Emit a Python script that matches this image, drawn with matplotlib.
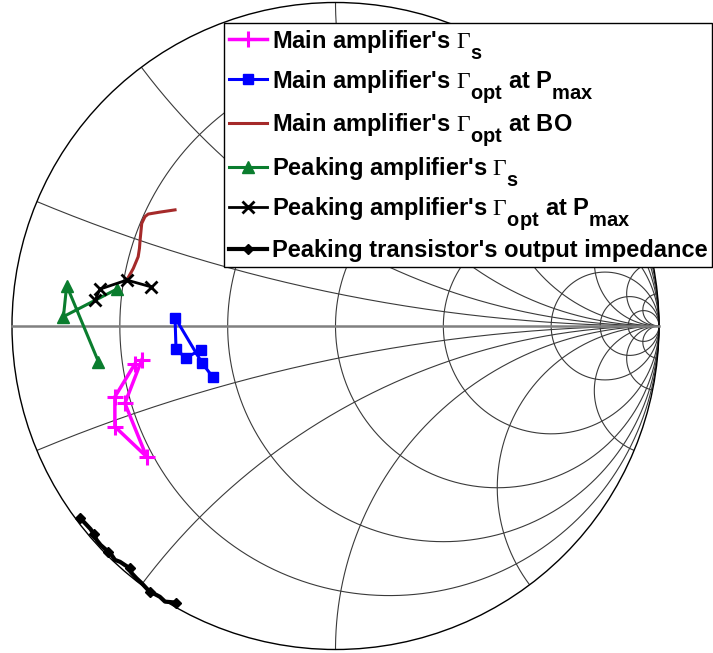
import numpy as np
import matplotlib
matplotlib.use("Agg")
import matplotlib.pyplot as plt
import matplotlib._mathtext as mathtext_impl
from matplotlib.patches import Circle

plt.rcParams["mathtext.fontset"] = "custom"
plt.rcParams["mathtext.rm"] = "Liberation Serif"
plt.rcParams["mathtext.it"] = "Liberation Serif:italic"
plt.rcParams["mathtext.bf"] = "Liberation Sans:bold"
plt.rcParams["mathtext.sf"] = "Liberation Sans:bold"
# larger, lower subscripts in the legend labels
mathtext_impl.SHRINK_FACTOR = 0.85
mathtext_impl.FontConstantsBase.sub1 = 1.0
mathtext_impl.FontConstantsBase.subdrop = 1.0

# Smith chart grid values (normalised resistance / reactance)
r_vals = [0.2, 0.5, 1, 2, 5, 10, 20]
x_vals = [0.2, 0.5, 1, 2, 5, 10, 20]

# Reflection coefficients (real part, imaginary part)
main_gs_re = [-0.620, -0.682, -0.682, -0.584, -0.651, -0.599]
main_gs_im = [-0.117, -0.219, -0.311, -0.404, -0.239, -0.105]

main_pmax_re = [-0.416, -0.463, -0.493, -0.496, -0.412, -0.380]
main_pmax_im = [-0.074, -0.098, -0.072, 0.026, -0.115, -0.157]

main_bo_re = [-0.640, -0.625, -0.610, -0.606, -0.604, -0.599, -0.589, -0.579, -0.543, -0.496]
main_bo_im = [0.151, 0.178, 0.214, 0.240, 0.266, 0.317, 0.338, 0.346, 0.352, 0.359]

peak_gs_re = [-0.733, -0.831, -0.841, -0.676]
peak_gs_im = [-0.110, 0.125, 0.029, 0.114]

peak_pmax_re = [-0.743, -0.728, -0.645, -0.570]
peak_pmax_im = [0.080, 0.114, 0.142, 0.121]

peak_zout_re = [-0.790, -0.771, -0.757, -0.747, -0.738, -0.726, -0.702, -0.692, -0.682, -0.666,
                -0.651, -0.635, -0.630, -0.615, -0.599, -0.573, -0.558, -0.543, -0.527, -0.493]
peak_zout_im = [-0.593, -0.613, -0.628, -0.644, -0.662, -0.677, -0.698, -0.708, -0.723, -0.729,
                -0.739, -0.749, -0.764, -0.780, -0.795, -0.823, -0.829, -0.837, -0.852, -0.855]
peak_zout_marks = [0, 3, 6, 11, 15, 19]

labels = [
    r"Main amplifier's $\mathrm{\Gamma}_{\mathbf{s}}$",
    r"Main amplifier's $\mathrm{\Gamma}_{\mathbf{opt}}$ at $\mathbf{P}_{\mathbf{max}}$",
    r"Main amplifier's $\mathrm{\Gamma}_{\mathbf{opt}}$ at BO",
    r"Peaking amplifier's $\mathrm{\Gamma}_{\mathbf{s}}$",
    r"Peaking amplifier's $\mathrm{\Gamma}_{\mathbf{opt}}$ at $\mathbf{P}_{\mathbf{max}}$",
    "Peaking transistor's output impedance",
]

W, H = 713, 653
fig = plt.figure(figsize=(W / 100, H / 100), dpi=100)
ax = fig.add_axes([0, 0, 1, 1])
cx, cy, R = 335.5, 326.0, 323.5
ax.set_xlim(-cx / R, (W - cx) / R)
ax.set_ylim((cy - H) / R, cy / R)
ax.axis("off")

grid_c = "#3a3a3a"
grid_lw = 0.8
clip = Circle((0, 0), 1, transform=ax.transData)
t = np.linspace(0, 2 * np.pi, 2001)

for r in r_vals:
    c, rad = r / (1 + r), 1 / (1 + r)
    ax.plot(c + rad * np.cos(t), rad * np.sin(t), color=grid_c, lw=grid_lw, zorder=1)
for x in x_vals:
    for s in (1, -1):
        ln, = ax.plot(1 + np.cos(t) / x, s / x + np.sin(t) / x, color=grid_c, lw=grid_lw, zorder=1)
        ln.set_clip_path(clip)

ax.add_patch(Circle((0, 0), 1, facecolor="none", edgecolor="black", lw=1.0, zorder=2))
ax.plot([-1, 1], [0, 0], color="#808080", lw=1.8, zorder=2)

ax.plot(main_gs_re, main_gs_im, color="#ff00ff", lw=2.5, marker="+", ms=11, mew=2.2,
        label=labels[0], zorder=5)
ax.plot(main_pmax_re, main_pmax_im, color="#0000ff", lw=2.2, marker="s", ms=7.5,
        label=labels[1], zorder=5)
ax.plot(main_bo_re, main_bo_im, color="#a52a2a", lw=2.2, label=labels[2], zorder=4)
ax.plot(peak_gs_re, peak_gs_im, color="#0a7d2e", lw=2.2, marker="^", ms=8,
        label=labels[3], zorder=5)
ax.plot(peak_pmax_re, peak_pmax_im, color="black", lw=2.0, marker="x", ms=9, mew=2.0,
        label=labels[4], zorder=5)
ax.plot(peak_zout_re, peak_zout_im, color="black", lw=3.0, marker="D", ms=5.5,
        markevery=peak_zout_marks, label=labels[5], zorder=5)

leg = ax.legend(loc="upper right", bbox_to_anchor=(712 / W, 1 - 23 / H),
                bbox_transform=fig.transFigure,
                prop={"family": "Liberation Sans", "weight": "bold", "size": 17},
                frameon=True, fancybox=False, edgecolor="black", framealpha=1,
                borderaxespad=0, handlelength=1.6, handletextpad=0.2,
                labelspacing=0.3, borderpad=0.2)
leg.get_frame().set_linewidth(1.0)

fig.savefig("out.png", dpi=100)
